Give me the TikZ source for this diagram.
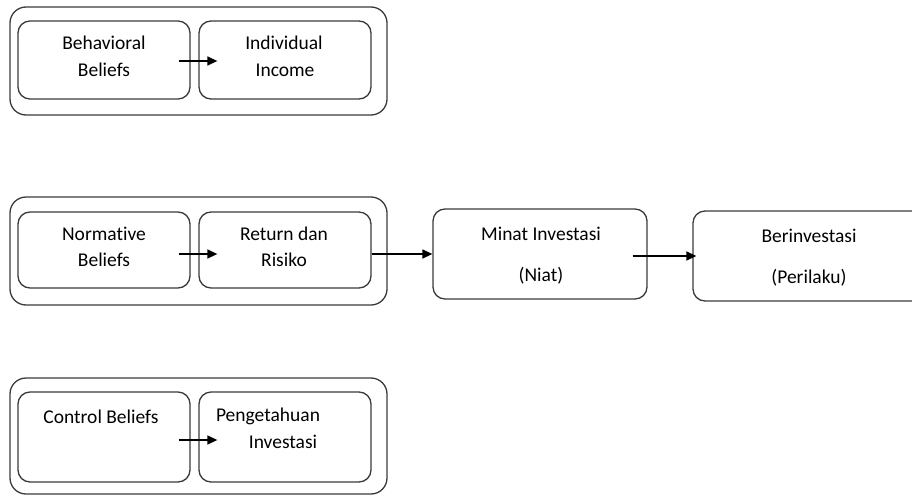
\documentclass[tikz,border=0pt]{standalone}
\usepackage{fontspec}
\setmainfont{Carlito}[Ligatures=NoCommon]
\usetikzlibrary{arrows.meta}
\definecolor{linegray}{HTML}{3A3A3A}
\begin{document}
\begin{tikzpicture}[x=1pt,y=-1pt,
  box/.style={draw=linegray,line width=1.3pt,rounded corners=12pt,inner sep=0pt},
  outerbox/.style={draw=linegray,line width=1.3pt,rounded corners=16pt,inner sep=0pt},
  lbl/.style={anchor=base,inner sep=0pt,font=\fontsize{19.5}{22}\selectfont},
  arr/.style={draw=black,line width=1.4pt,-{Triangle[length=10pt,width=9pt]}}]
\useasboundingbox (0,0) rectangle (912,495);
% outer groups
\node[outerbox,minimum width=377pt,minimum height=108pt] (g1) at (198.5,61) {};
\node[outerbox,minimum width=377pt,minimum height=108pt] (g2) at (198.5,251) {};
\node[outerbox,minimum width=377pt,minimum height=116pt] (g3) at (198.5,436) {};
% inner boxes
\node[box,minimum width=172pt,minimum height=78pt] (bb) at (104,60) {};
\node[box,minimum width=172pt,minimum height=78pt] (ii) at (285,60) {};
\node[box,minimum width=172pt,minimum height=76pt] (nb) at (104,250) {};
\node[box,minimum width=172pt,minimum height=76pt] (rr) at (285,250) {};
\node[box,minimum width=172pt,minimum height=90pt] (cb) at (104,437) {};
\node[box,minimum width=172pt,minimum height=90pt] (pi) at (285,437) {};
\node[box,minimum width=214pt,minimum height=90pt] (mi) at (540,254) {};
\node[box,minimum width=232pt,minimum height=90pt] (be) at (809,256) {};
% labels
\node[lbl] (t1) at (104,49) {Behavioral};
\node[lbl] (t2) at (104,76) {Beliefs};
\node[lbl] (t3) at (284,49) {Individual};
\node[lbl] (t4) at (285,76) {Income};
\node[lbl] (t5) at (104,240) {Normative};
\node[lbl] (t6) at (104,266) {Beliefs};
\node[lbl] (t7) at (284,240) {Return dan};
\node[lbl] (t8) at (284,266) {Risiko};
\node[lbl] (t9) at (101,423) {Control Beliefs};
\node[lbl] (t10) at (268,421) {Pengetahuan};
\node[lbl] (t11) at (283,448) {Investasi};
\node[lbl] (t12) at (541,240) {Minat Investasi};
\node[lbl] (t13) at (541,281) {(Niat)};
\node[lbl] (t14) at (809,242) {Berinvestasi};
\node[lbl] (t15) at (809,283) {(Perilaku)};
% arrows
\draw[arr] ([shift={(-12pt,-1pt)}]bb.east) -- ([shift={(19pt,-1pt)}]ii.west);
\draw[arr] ([shift={(-12pt,-4pt)}]nb.east) -- ([shift={(19pt,-4pt)}]rr.west);
\draw[arr] ([shift={(-12pt,-3pt)}]cb.east) -- ([shift={(19pt,-3pt)}]pi.west);
\draw[arr] ([yshift=-4pt]rr.east) -- ([yshift=0pt]mi.west |- 0,254);
\draw[arr] ([shift={(-15pt,-2pt)}]mi.east) -- ([shift={(4pt,0pt)}]be.west);
\end{tikzpicture}
\end{document}
